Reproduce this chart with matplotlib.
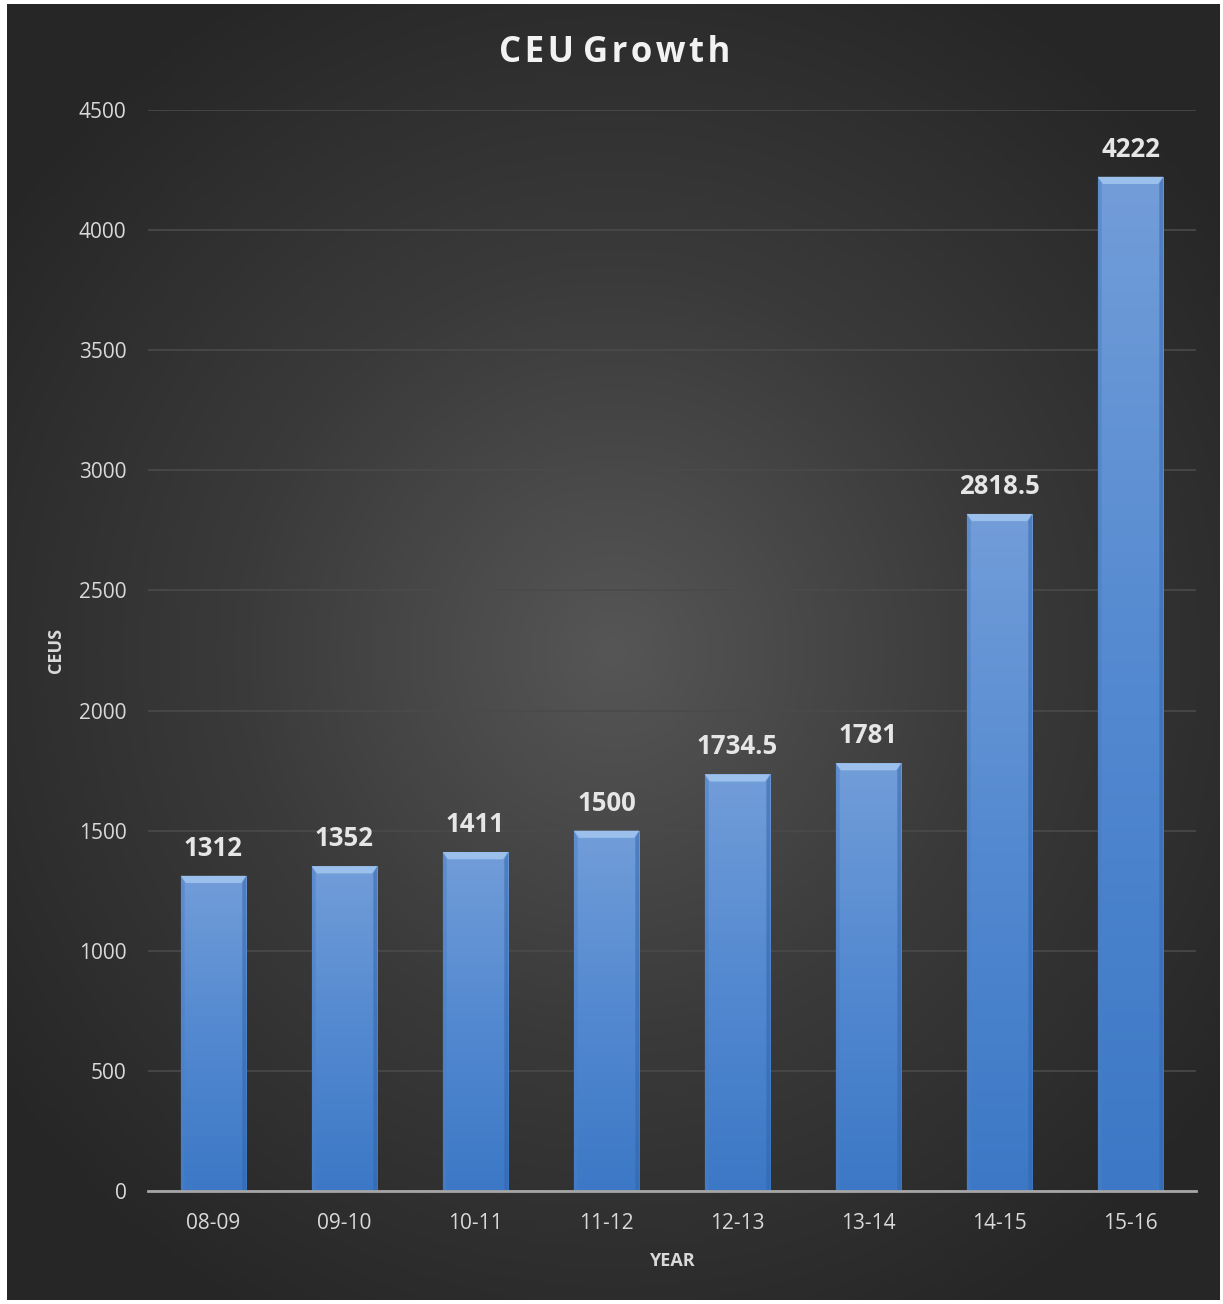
import numpy as np
import matplotlib.pyplot as plt
from matplotlib.colors import LinearSegmentedColormap

years = ["08-09", "09-10", "10-11", "11-12", "12-13", "13-14", "14-15", "15-16"]
ceus = [1312, 1352, 1411, 1500, 1734.5, 1781, 2818.5, 4222]
labels = ["1312", "1352", "1411", "1500", "1734.5", "1781", "2818.5", "4222"]

plt.rcParams['font.family'] = ['Open Sans', 'DejaVu Sans']

fig = plt.figure(figsize=(12.23, 13.04), dpi=100, facecolor='white')

# dark radial background
bg = fig.add_axes([7 / 1223, 4 / 1304, 1213 / 1223, 1296 / 1304])
yy, xx = np.mgrid[-1:1:400j, -1:1:400j]
r = np.sqrt(xx ** 2 + (yy * 1.05) ** 2)
bg_cmap = LinearSegmentedColormap.from_list('bg', ['#565656', '#3a3a3a', '#262626'])
bg.imshow(np.clip(r / 1.25, 0, 1), cmap=bg_cmap, aspect='auto', extent=(0, 1, 0, 1), vmin=0, vmax=1)
bg.set_axis_off()

ax = fig.add_axes([148 / 1223, 1 - 1191 / 1304, 1048 / 1223, 1081 / 1304])
ax.patch.set_alpha(0)

x = np.arange(len(years))
bars = ax.bar(x, ceus, width=0.5, color='#4f86cc', zorder=2)

bar_cmap = LinearSegmentedColormap.from_list('bar', ['#3c78c6', '#5389d0', '#729dd9'])
grad = np.linspace(0, 1, 256).reshape(-1, 1)
for b, v, lab in zip(bars, ceus, labels):
    x0 = b.get_x()
    x1 = x0 + b.get_width()
    im = ax.imshow(grad, cmap=bar_cmap, origin='lower', aspect='auto',
                   extent=(x0, x1, 0, v), zorder=3)
    im.set_clip_path(b)
    # bevel at the top
    bh = 30
    bw = 0.04
    ax.fill([x0, x1, x1 - bw, x0 + bw], [v, v, v - bh, v - bh],
            color='#9cc0ec', zorder=4, lw=0)
    ax.fill([x0, x0 + 0.03, x0 + 0.03, x0], [0, 0, v - bh, v], color='#4a7fc4', alpha=0.5, zorder=4, lw=0)
    ax.fill([x1, x1 - 0.03, x1 - 0.03, x1], [0, 0, v - bh, v], color='#2f63a8', alpha=0.5, zorder=4, lw=0)
    ax.text(b.get_x() + b.get_width() / 2, v + 58, lab,
            ha='center', va='bottom', fontsize=18.5, fontweight='bold', color='#e6e6e6', zorder=5)

ax.set_xlim(-0.5, len(years) - 0.5)
ax.set_ylim(0, 4500)
ax.set_yticks(np.arange(0, 4501, 500))
ax.set_xticks(x)
ax.set_xticklabels(years)
ax.yaxis.grid(True, color='#4a4a4a', lw=1.2, zorder=0)
ax.set_axisbelow(True)
for s in ['top', 'right', 'left']:
    ax.spines[s].set_visible(False)
ax.spines['bottom'].set_color('#a6a6a6')
ax.spines['bottom'].set_linewidth(2)
ax.spines['bottom'].set_zorder(6)
ax.tick_params(axis='both', length=0, colors='#d9d9d9', labelsize=15)
ax.tick_params(axis='x', pad=16)
ax.tick_params(axis='y', pad=15.5)

ax.set_xlabel("YEAR", fontsize=13, fontweight='bold', color='#d9d9d9', labelpad=13)
ax.set_ylabel("CEUS", fontsize=13, fontweight='bold', color='#d9d9d9', labelpad=10)

fig.text(615 / 1223, 1 - 53 / 1304, "C E U   G r o w t h".replace(" ", "\u200a").replace("\u200a\u200a\u200a", " "),
         ha='center', va='center', fontsize=25, fontweight='bold', color='#f2f2f2')

fig.savefig("out.png", dpi=100, facecolor='white')
